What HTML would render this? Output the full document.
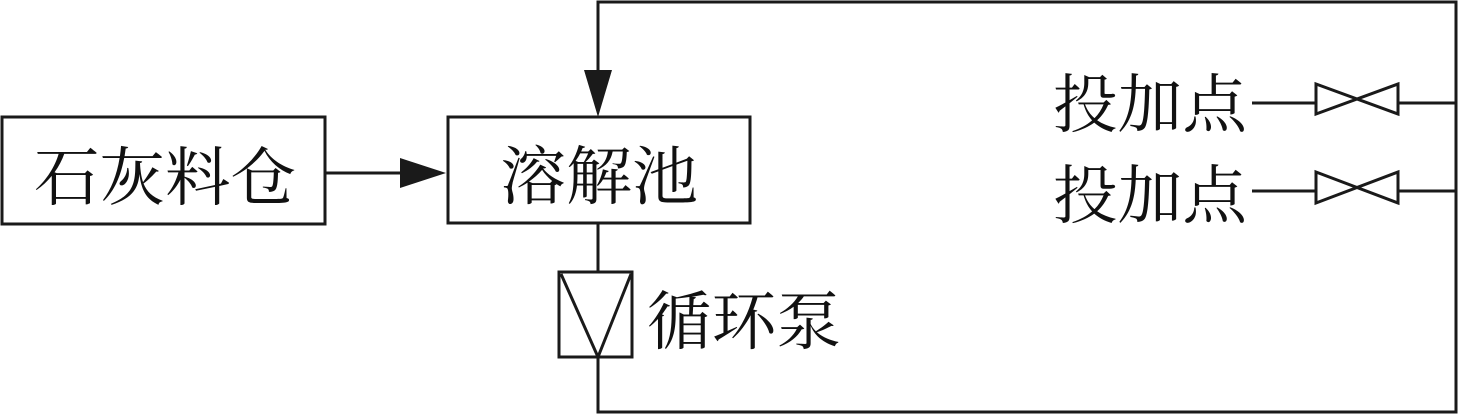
<!DOCTYPE html>
<html><head><meta charset="utf-8"><style>html,body{margin:0;padding:0;background:#fff}svg{display:block}</style></head>
<body>
<svg width="1460" height="415" viewBox="0 0 1460 415" xmlns="http://www.w3.org/2000/svg">
<g fill="none" stroke="#1a1a1a" stroke-width="3">
<rect x="2" y="117" width="323" height="107"/>
<rect x="448" y="117" width="302" height="106"/>
<line x1="325" y1="173" x2="405" y2="173"/>
<polyline points="598,95 598,2 1456,2 1456,412 598,412 598,357"/>
<line x1="598" y1="223" x2="598" y2="272"/>
<rect x="559" y="272" width="73" height="85"/>
<polyline points="561,274 598,357 631,274"/>
<line x1="1252" y1="103" x2="1316" y2="103"/>
<line x1="1398" y1="103" x2="1456" y2="103"/>
<line x1="1252" y1="191" x2="1316" y2="191"/>
<line x1="1398" y1="191" x2="1456" y2="191"/>
<polygon points="1316,84 1316,114 1398,84 1398,114"/>
<polygon points="1316,172 1316,203 1398,172 1398,203"/>
</g>
<g fill="#1a1a1a">
<polygon points="400,158 446,173 400,188"/>
<polygon points="584,70 612,70 598,117"/>
</g>
<g font-family="'Liberation Serif','Noto Serif CJK SC',serif" font-size="64" fill="#111">
<text x="34" y="200" textLength="262" lengthAdjust="spacingAndGlyphs">石灰料仓</text>
<text x="500" y="199" textLength="198" lengthAdjust="spacingAndGlyphs">溶解池</text>
<text x="647" y="344" textLength="194" lengthAdjust="spacingAndGlyphs">循环泵</text>
<text x="1053" y="127" textLength="194" lengthAdjust="spacingAndGlyphs">投加点</text>
<text x="1053" y="218" textLength="194" lengthAdjust="spacingAndGlyphs">投加点</text>
</g>
</svg>
</body></html>
